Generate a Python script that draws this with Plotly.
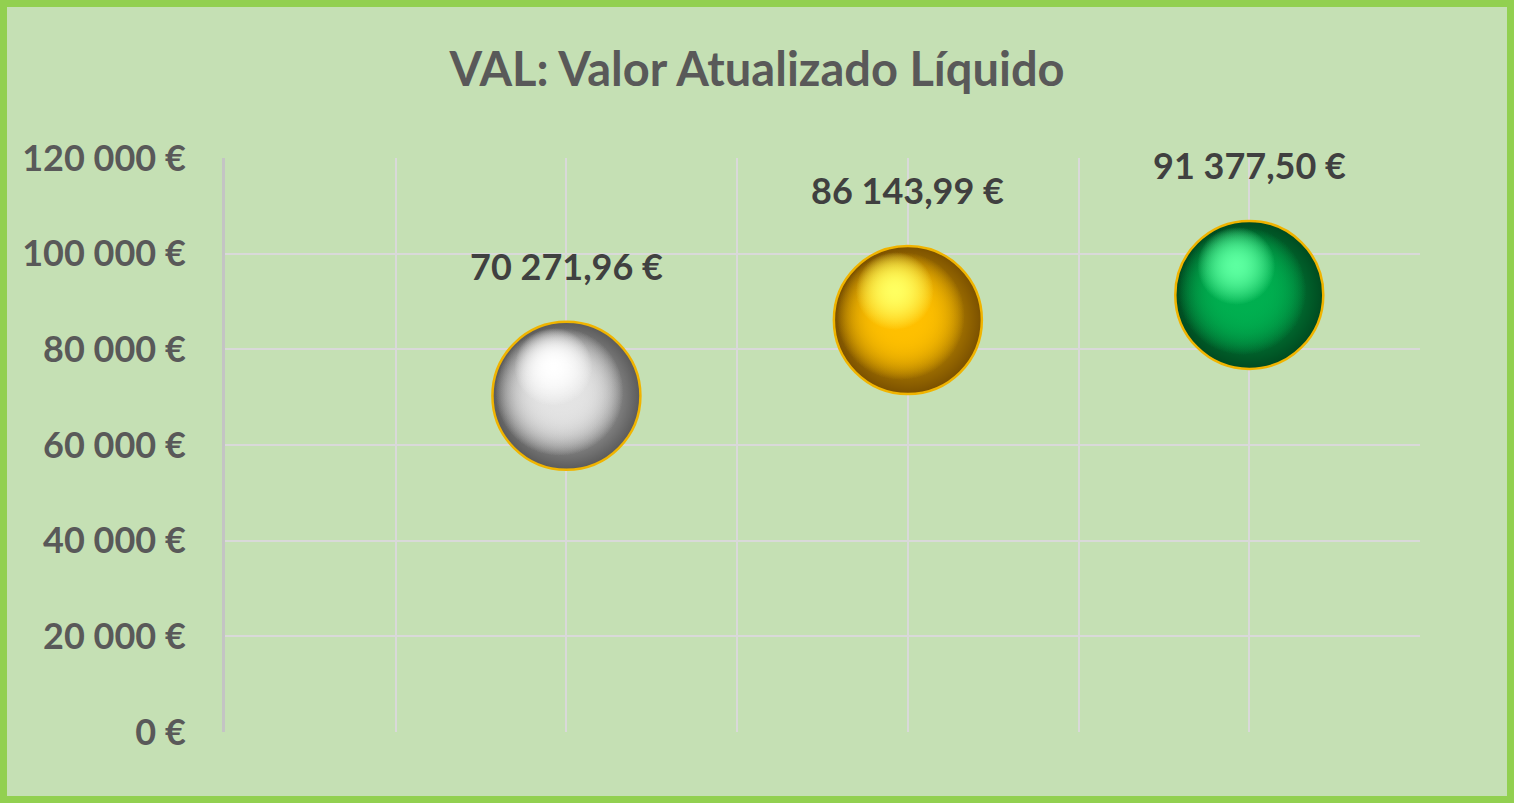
import plotly.graph_objects as go

# ---- data ----
positions = [2, 4, 6]
values = [70271.96, 86143.99, 91377.50]
sphere_mid = ["#e4e4e4", "#ffc000", "#00b050"]
sphere_dark = ["#5a5a5a", "#7a5000", "#004a20"]
sphere_light = ["#ffffff", "#ffff60", "#5cffa0"]
y_ticks = [0, 20000, 40000, 60000, 80000, 100000, 120000]
title_text = "VAL: Valor Atualizado Líquido"

# ---- layout geometry ----
W, H = 1514, 803
ML, MR, MT, MB = 225, 94, 158, 71
X_MIN, X_MAX = 0, 7
Y_MIN, Y_MAX = 0, 120000
PW, PH = W - ML - MR, H - MT - MB
dxpp = (X_MAX - X_MIN) / PW
dypp = (Y_MAX - Y_MIN) / PH


def eur(v, dec=2):
    s = f"{v:,.{dec}f}"
    return s.replace(",", " ").replace(".", ",") + " €"


def rgba(hexc, a):
    hexc = hexc.lstrip("#")
    r, g, b = int(hexc[0:2], 16), int(hexc[2:4], 16), int(hexc[4:6], 16)
    return f"rgba({r},{g},{b},{a})"


fig = go.Figure()
D = 148
for i, (xp, v) in enumerate(zip(positions, values)):
    # base sphere: radial mid -> dark rim, gold outline
    fig.add_trace(go.Scatter(
        x=[xp], y=[v], mode="markers", hoverinfo="skip", showlegend=False,
        marker=dict(size=D, color=sphere_dark[i],
                    gradient=dict(type="radial", color=sphere_mid[i]),
                    line=dict(color="#f0b400", width=2.5), opacity=1)))
    # body brightening shifted up-left (stacked for a flatter falloff)
    for _ in range(3):
        fig.add_trace(go.Scatter(
            x=[xp - 7 * dxpp], y=[v + 4 * dypp], mode="markers", hoverinfo="skip",
            showlegend=False,
            marker=dict(size=128, color=rgba(sphere_mid[i], 0),
                        gradient=dict(type="radial", color=sphere_mid[i]),
                        line=dict(width=0))))
    # specular highlight
    for _ in range(2):
        fig.add_trace(go.Scatter(
            x=[xp - 13 * dxpp], y=[v + 29 * dypp], mode="markers", hoverinfo="skip",
            showlegend=False,
            marker=dict(size=78, color=rgba(sphere_light[i], 0),
                        gradient=dict(type="radial", color=sphere_light[i]),
                        line=dict(width=0))))
    fig.add_annotation(x=xp, y=v, text=f"<b>{eur(v)}</b>", showarrow=False,
                       yshift=130, font=dict(family="Lato", size=36, color="#404040"))

fig.update_xaxes(range=[X_MIN, X_MAX], dtick=1, tick0=0, showgrid=True,
                 gridcolor="#d9d9d9", gridwidth=2, showticklabels=False,
                 zeroline=False, showline=False, fixedrange=True)
fig.update_yaxes(range=[Y_MIN, Y_MAX], tickvals=y_ticks,
                 ticktext=[f"<b>{eur(t, 0)}</b>" for t in y_ticks],
                 showgrid=True, gridcolor="#d9d9d9", gridwidth=2,
                 zeroline=False, showline=True, linecolor="#c4c4c4", linewidth=3,
                 tickfont=dict(family="Lato", size=36, color="#595959"),
                 ticks="outside", ticklen=29, tickcolor="rgba(0,0,0,0)",
                 fixedrange=True)

fig.update_layout(
    width=W, height=H, autosize=False,
    margin=dict(l=ML, r=MR, t=MT, b=MB),
    paper_bgcolor="#c5e0b4", plot_bgcolor="#c5e0b4",
    title=dict(text=f"<b>{title_text}</b>", x=0.5, xref="container", xanchor="center",
               y=1 - 70 / H, yref="container", yanchor="middle",
               font=dict(family="Lato", size=47, color="#595959")),
    shapes=[dict(type="rect", xref="paper", yref="paper",
                 x0=(-ML + 3.5) / PW, x1=1 + (MR - 3.5) / PW,
                 y0=-(MB - 3.5) / PH, y1=1 + (MT - 3.5) / PH,
                 line=dict(color="#92d050", width=7), layer="above")],
)
fig.write_html("out.html", config={"displayModeBar": False},
               post_script="document.body.style.margin='0';document.body.style.overflow='hidden';")
